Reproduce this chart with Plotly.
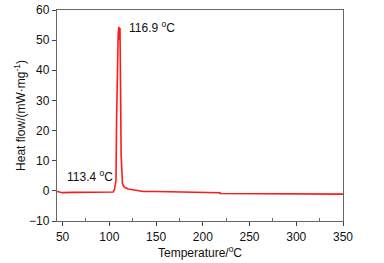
import plotly.graph_objects as go

temperature = [44, 46, 50, 60, 80, 100, 103, 104.2, 105.5, 106.5, 107.1, 107.8, 108.6, 109.5, 110.3,
               110.9, 111.4, 111.8, 112.1, 112.6, 113.2, 114.0, 114.9, 117, 120.3, 125, 132.9, 136.4,
               150, 173.5, 173.7, 200, 218.5, 218.7, 260, 312.3, 312.5, 350]
heat_flow = [-0.2, -0.3, -0.6, -0.5, -0.5, -0.5, -0.5, -0.4, 0.5, 1.8, 3.3, 24.4, 40.0, 52.3, 54.4,
             50.0, 54.0, 47.0, 30.0, 12.0, 4.4, 2.6, 1.7, 1.0, 0.6, 0.3, 0.0, -0.2,
             -0.2, -0.3, -0.5, -0.5, -0.6, -0.9, -0.9, -0.9, -1.1, -1.1]

peak_label = "116.9 <sup>o</sup>C"
onset_label = "113.4 <sup>o</sup>C"

font_family = "Liberation Sans, Arial, sans-serif"

fig = go.Figure()
fig.add_trace(go.Scatter(x=temperature, y=heat_flow, mode="lines",
                         line=dict(color="#ff1a1a", width=1.6), showlegend=False))

fig.add_annotation(x=119, y=54.5, text=peak_label, showarrow=False, xanchor="left",
                   yanchor="middle", font=dict(size=12, color="#111", family=font_family))
fig.add_annotation(x=52.5, y=4.8, text=onset_label, showarrow=False, xanchor="left",
                   yanchor="middle", font=dict(size=12, color="#111", family=font_family))

axis_common = dict(showgrid=False, zeroline=False, showline=True, linecolor="#666",
                   linewidth=1.3, mirror=True, ticks="outside", ticklen=4, tickcolor="#444",
                   automargin=False,
                   tickfont=dict(size=12, color="#111", family=font_family))

fig.update_xaxes(range=[44, 350], tickmode="array", tickvals=[50, 100, 150, 200, 250, 300, 350],
                 minor=dict(tickvals=[75, 125, 175, 225, 275, 325], ticks="inside", ticklen=3,
                            tickcolor="#666"),
                 title=dict(text="Temperature/<sup>o</sup>C", standoff=0,
                            font=dict(size=12, color="#111", family=font_family)),
                 **axis_common)
fig.update_yaxes(range=[-10, 60], tickmode="array", tickvals=[-10, 0, 10, 20, 30, 40, 50, 60],
                 title=dict(text="Heat flow/(mW·mg<sup>-1</sup>)", standoff=0,
                            font=dict(size=12, color="#111", family=font_family)),
                 **axis_common)

fig.update_layout(width=384, height=263, margin=dict(l=57, r=41, t=10, b=42, autoexpand=False),
                  paper_bgcolor="white", plot_bgcolor="white")

fig.write_html("out.html", config={"displayModeBar": False},
               post_script="document.body.style.margin='0px';document.body.style.overflow='hidden';")
